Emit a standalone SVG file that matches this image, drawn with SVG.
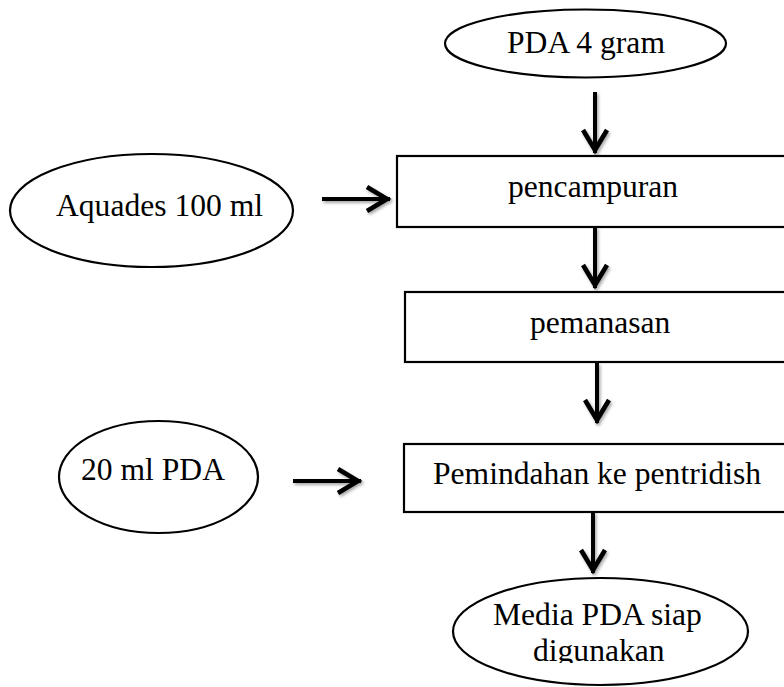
<svg xmlns="http://www.w3.org/2000/svg" width="784" height="687" viewBox="0 0 784 687">
  <style>
    .shape { fill: #fff; stroke: #000; stroke-width: 2.2; }
    .lbl { font-family: "Liberation Serif", "Times New Roman", serif; font-size: 31.6px; fill: #000; }
    .conn { fill: none; stroke: #000; stroke-width: 4; }
  </style>
  <defs>
    <marker id="ah" markerUnits="userSpaceOnUse" markerWidth="40" markerHeight="40" viewBox="-30 -20 40 40" refX="0" refY="0" orient="auto" overflow="visible">
      <path d="M-23,-12 L-3,0 L-23,12" fill="none" stroke="#000" stroke-width="4.6" stroke-linejoin="miter"/>
    </marker>
    <filter id="sh" x="-50%" y="-50%" width="200%" height="200%">
      <feDropShadow dx="1.5" dy="2" stdDeviation="1.5" flood-color="#000" flood-opacity="0.35"/>
    </filter>
    <clipPath id="clipBottom">
      <rect x="0" y="0" width="784" height="663"/>
    </clipPath>
  </defs>
  <rect width="784" height="687" fill="#fff"/>

  <g id="node-pda4">
    <ellipse class="shape" cx="585.5" cy="43.5" rx="140.5" ry="34"/>
    <text class="lbl" x="507" y="53">PDA 4 gram</text>
  </g>
  <g id="node-aquades">
    <ellipse class="shape" cx="151.5" cy="210.5" rx="141.5" ry="56.5"/>
    <text class="lbl" x="56" y="216">Aquades 100 ml</text>
  </g>
  <g id="node-pencampuran">
    <rect class="shape" x="397" y="156" width="400" height="71"/>
    <text class="lbl" x="508" y="197">pencampuran</text>
  </g>
  <g id="node-pemanasan">
    <rect class="shape" x="405" y="292" width="400" height="70"/>
    <text class="lbl" x="530" y="333">pemanasan</text>
  </g>
  <g id="node-20ml">
    <ellipse class="shape" cx="158.5" cy="477" rx="99.5" ry="56"/>
    <text class="lbl" x="81" y="480">20 ml PDA</text>
  </g>
  <g id="node-pemindahan">
    <rect class="shape" x="404" y="444" width="400" height="68"/>
    <text class="lbl" x="433" y="484">Pemindahan ke pentridish</text>
  </g>
  <g id="node-media">
    <ellipse class="shape" cx="600.5" cy="631.5" rx="147.5" ry="53.5"/>
    <g clip-path="url(#clipBottom)">
      <text class="lbl" x="493" y="625">Media PDA siap</text>
      <text class="lbl" x="533" y="661">digunakan</text>
    </g>
  </g>

  <g id="connectors" filter="url(#sh)">
    <line class="conn" x1="595" y1="92" x2="595" y2="153" marker-end="url(#ah)"/>
    <line class="conn" x1="595" y1="227" x2="595" y2="288" marker-end="url(#ah)"/>
    <line class="conn" x1="597" y1="363" x2="597" y2="423" marker-end="url(#ah)"/>
    <line class="conn" x1="593" y1="512" x2="593" y2="573" marker-end="url(#ah)"/>
    <line class="conn" x1="322" y1="199" x2="390" y2="199" marker-end="url(#ah)"/>
    <line class="conn" x1="293" y1="481" x2="361" y2="481" marker-end="url(#ah)"/>
  </g>
</svg>
